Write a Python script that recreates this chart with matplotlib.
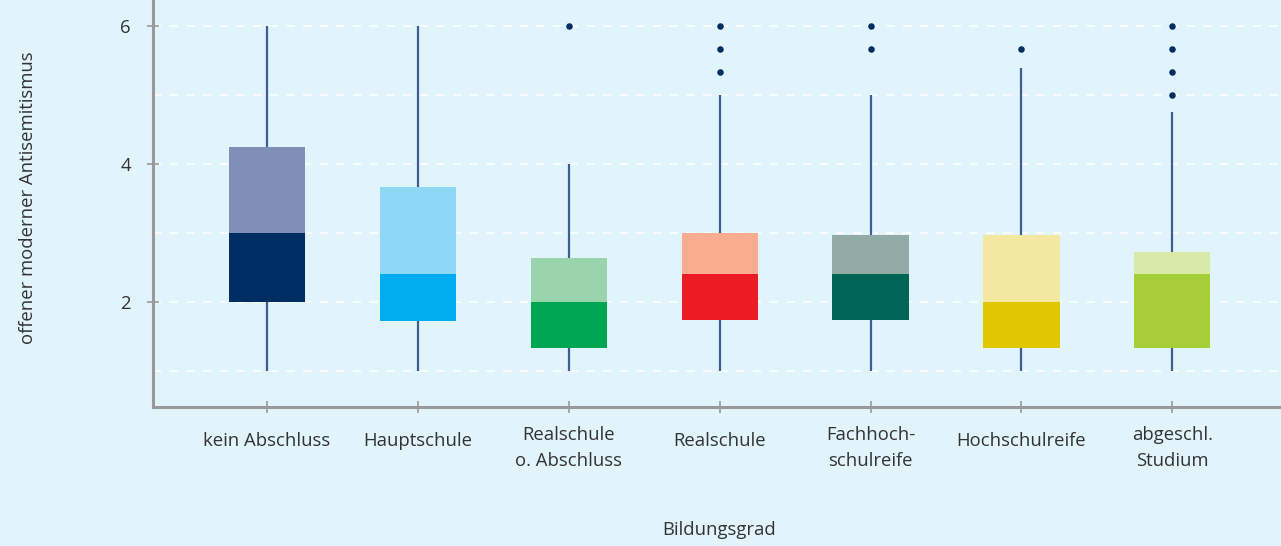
import matplotlib
matplotlib.use("Agg")
import matplotlib.pyplot as plt
import matplotlib.transforms as mtransforms

plt.rcParams["font.family"] = ["Open Sans", "DejaVu Sans"]

# ── data ─────────────────────────────────────────────────────────────────────
categories = ["kein Abschluss", "Hauptschule", "Realschule\no. Abschluss", "Realschule",
              "Fachhoch-\nschulreife", "Hochschulreife", "abgeschl.\nStudium"]
whisker_lo = [1.0, 1.0, 1.0, 1.0, 1.0, 1.0, 1.0]
q1 = [2.0, 1.72, 1.33, 1.74, 1.74, 1.33, 1.33]
median = [3.0, 2.41, 2.0, 2.41, 2.41, 2.0, 2.41]
q3 = [4.25, 3.67, 2.64, 3.0, 2.98, 2.98, 2.72]
whisker_hi = [6.0, 6.0, 4.0, 5.0, 5.0, 5.4, 4.75]
outliers = [[], [], [6.0], [6.0, 5.67, 5.33], [6.0, 5.67], [5.67], [6.0, 5.67, 5.33, 5.0]]
dark_colors = ["#002d62", "#00aeef", "#00a651", "#ed1c24", "#006557", "#dfc800", "#a6ce39"]
light_colors = ["#7f8fb8", "#8fd7f6", "#9ad4ac", "#f9ac8f", "#93aba6", "#f4e7a0", "#d8e9a8"]

BG = "#e1f3fb"
AXIS = "#999999"
TEXT = "#333333"
FS = 13.3

fig = plt.figure(figsize=(12.81, 5.46), dpi=100)
fig.patch.set_facecolor(BG)
ax = fig.add_axes([153 / 1281, 1 - 407 / 546, 1 - 153 / 1281, 407 / 546])
ax.set_facecolor(BG)

x = list(range(len(categories)))
w = 0.505

# gridlines at every integer
for g in range(1, 7):
    ax.axhline(g, color="white", lw=1.2, ls=(0, (5, 5)), zorder=0)

# whiskers
ax.vlines(x, whisker_lo, q1, color="#3d5f8f", lw=1.6, zorder=1)
ax.vlines(x, q3, whisker_hi, color="#3d5f8f", lw=1.6, zorder=1)

# box halves
ax.bar(x, [m - a for m, a in zip(median, q1)], bottom=q1, width=w,
       color=dark_colors, zorder=2)
ax.bar(x, [b - m for b, m in zip(q3, median)], bottom=median, width=w,
       color=light_colors, zorder=2)

# outliers
for xi, pts in zip(x, outliers):
    ax.scatter([xi] * len(pts), pts, s=22, color="#002d62", zorder=3, lw=0)

ax.set_xlim(-0.755, 6.72)
ax.set_ylim(0.48, 6.38)

ax.set_yticks([2, 4, 6])
ax.set_xticks(x)
ax.set_xticklabels([])
ax.tick_params(axis="both", direction="inout", length=8, width=1.2, color=AXIS,
               labelsize=FS, labelcolor=TEXT)
ax.tick_params(axis="y", pad=12)

for side in ["top", "right"]:
    ax.spines[side].set_visible(False)
for side in ["left", "bottom"]:
    ax.spines[side].set_color(AXIS)
    ax.spines[side].set_linewidth(2.2)

# x tick labels as text so multi-line labels sit centred
trans = mtransforms.blended_transform_factory(ax.transData, fig.transFigure)
for xi, lab in zip(x, categories):
    y_px = 448 if "\n" in lab else 441
    ax.text(xi, 1 - y_px / 546, lab, transform=trans, ha="center", va="center",
            fontsize=FS, color=TEXT, linespacing=1.6)

fig.text(28 / 1281, 1 - 198 / 546, "offener moderner Antisemitismus", rotation=90,
         ha="center", va="center", fontsize=FS, color=TEXT)
fig.text(719 / 1281, 1 - 530 / 546, "Bildungsgrad", ha="center", va="center",
         fontsize=FS, color=TEXT)

fig.savefig("out.png", dpi=100, facecolor=BG)
